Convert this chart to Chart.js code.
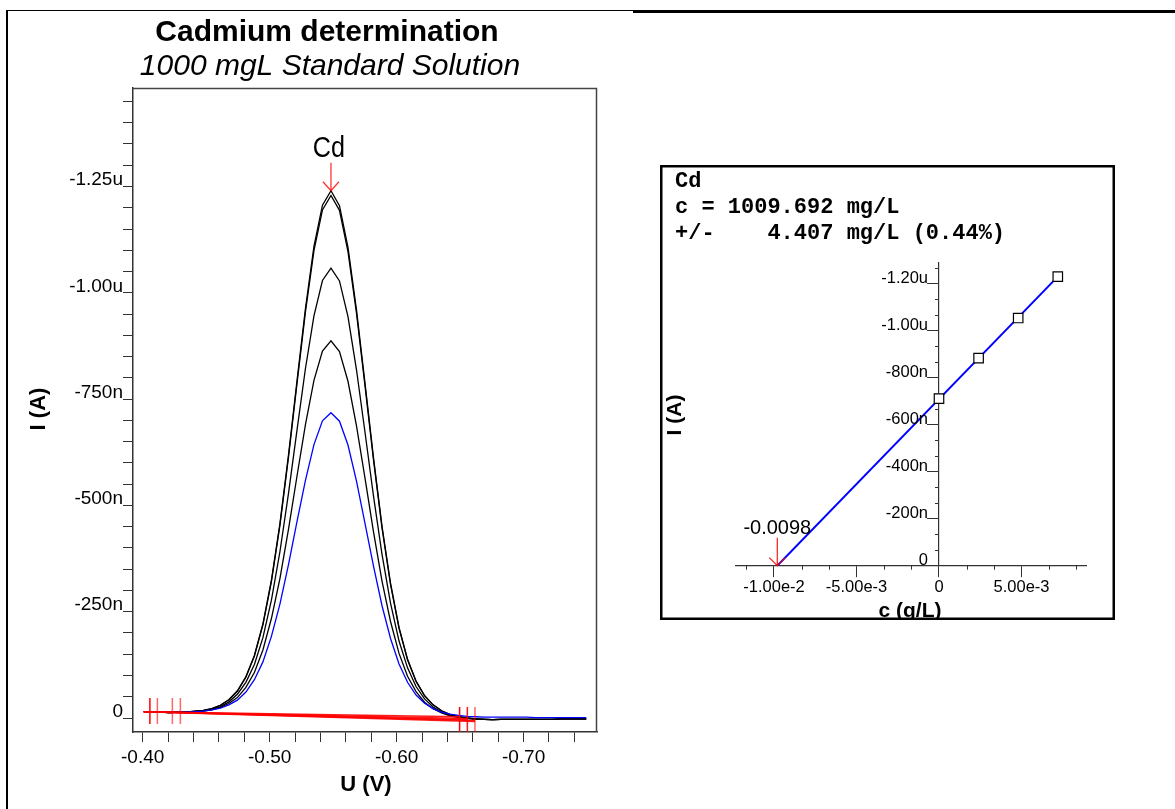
<!DOCTYPE html>
<html><head><meta charset="utf-8">
<script src="https://cdn.jsdelivr.net/npm/chart.js@4.4.1/dist/chart.umd.min.js"></script>
<style>
html,body{margin:0;padding:0;background:#fff;width:1175px;height:809px;overflow:hidden;}
#left{position:absolute;left:0;top:0;width:656px;height:809px;}
#right{position:absolute;left:660px;top:165px;width:455px;height:455px;}
.fl{position:absolute;background:#000;}
</style></head><body>
<div class="fl" style="left:6px;top:10px;width:2px;height:799px"></div>
<div class="fl" style="left:6px;top:10px;width:628px;height:1px"></div>
<div class="fl" style="left:633px;top:10px;width:542px;height:3px"></div>
<div id="left"><canvas id="c1" width="656" height="809"></canvas></div>
<div id="right"><canvas id="c2" width="455" height="455"></canvas></div>
<script>
Chart.defaults.font.family = "'Liberation Sans', Arial, sans-serif";
Chart.defaults.color = '#000';

// ---------- Left chart: voltammograms (U in V, I in µA) ----------
const chartTitle = 'Cadmium determination';
const chartSubtitle = '1000 mgL Standard Solution';
const xAxisTitle = 'U (V)';
const yAxisTitle = 'I (A)';

const potentialV = [-0.4009,-0.4076,-0.4143,-0.4210,-0.4277,-0.4344,-0.4411,-0.4478,-0.4545,-0.4612,-0.4679,-0.4746,-0.4813,-0.4880,-0.4947,-0.5014,-0.5081,-0.5148,-0.5215,-0.5282,-0.5349,-0.5416,-0.5483,-0.5550,-0.5617,-0.5684,-0.5751,-0.5818,-0.5885,-0.5952,-0.6019,-0.6086,-0.6153,-0.6220,-0.6287,-0.6354,-0.6421,-0.6488,-0.6555,-0.6622,-0.6689,-0.6756,-0.6823,-0.6890,-0.6957,-0.7024,-0.7091,-0.7158,-0.7225,-0.7292,-0.7359,-0.7426,-0.7493];

const sampleI = [-0.015,-0.015,-0.014,-0.014,-0.014,-0.014,-0.015,-0.016,-0.019,-0.023,-0.031,-0.042,-0.061,-0.090,-0.132,-0.192,-0.268,-0.360,-0.461,-0.559,-0.643,-0.699,-0.718,-0.698,-0.642,-0.557,-0.458,-0.357,-0.264,-0.187,-0.127,-0.084,-0.054,-0.035,-0.022,-0.014,-0.009,-0.006,-0.004,-0.003,-0.002,-0.002,-0.002,-0.002,-0.002,-0.002,-0.001,-0.001,-0.001,-0.001,-0.001,-0.001,-0.001];
const add1I = [-0.015,-0.014,-0.014,-0.013,-0.014,-0.014,-0.015,-0.016,-0.019,-0.025,-0.034,-0.048,-0.072,-0.107,-0.160,-0.234,-0.328,-0.443,-0.568,-0.690,-0.794,-0.863,-0.887,-0.862,-0.792,-0.687,-0.564,-0.438,-0.322,-0.227,-0.152,-0.098,-0.062,-0.037,-0.022,-0.012,-0.005,-0.001,0.001,0.003,0.003,0.004,0.003,0.003,0.003,0.003,0.003,0.003,0.003,0.002,0.002,0.002,0.002];
const add2I = [-0.015,-0.014,-0.014,-0.013,-0.014,-0.014,-0.015,-0.017,-0.021,-0.027,-0.038,-0.056,-0.084,-0.126,-0.189,-0.277,-0.391,-0.527,-0.676,-0.822,-0.946,-1.029,-1.058,-1.028,-0.944,-0.819,-0.672,-0.522,-0.385,-0.270,-0.181,-0.118,-0.074,-0.045,-0.026,-0.014,-0.006,-0.002,0.001,0.002,0.003,0.004,0.003,0.003,0.003,0.003,0.003,0.003,0.003,0.002,0.002,0.002,0.002];
const add3I = [-0.015,-0.014,-0.014,-0.013,-0.014,-0.014,-0.016,-0.018,-0.022,-0.030,-0.043,-0.063,-0.096,-0.146,-0.219,-0.321,-0.453,-0.612,-0.785,-0.955,-1.099,-1.195,-1.229,-1.194,-1.097,-0.952,-0.781,-0.607,-0.447,-0.314,-0.211,-0.137,-0.086,-0.052,-0.031,-0.017,-0.008,-0.003,0.000,0.002,0.003,0.004,0.003,0.003,0.003,0.003,0.003,0.003,0.003,0.002,0.002,0.002,0.002];
const add3bI = [-0.015,-0.014,-0.014,-0.013,-0.014,-0.014,-0.016,-0.018,-0.022,-0.030,-0.043,-0.064,-0.097,-0.147,-0.221,-0.324,-0.457,-0.617,-0.792,-0.963,-1.109,-1.206,-1.240,-1.205,-1.107,-0.960,-0.788,-0.612,-0.451,-0.317,-0.213,-0.138,-0.087,-0.053,-0.031,-0.017,-0.008,-0.003,0.000,0.002,0.003,0.004,0.003,0.003,0.003,0.003,0.003,0.003,0.003,0.002,0.002,0.002,0.002];

// integration baselines (red)
const baseStartV = -0.4009;
const baseStartI = [-0.015,-0.015,-0.015,-0.015,-0.015];
const baseEndV = [-0.6496,-0.6557,-0.6557,-0.6617,-0.6617];
const baseEndI = [-0.003,0.001,0.004,0.006,0.008];

// integration limit markers
const leftLimitV = [-0.4057,-0.4116,-0.4234,-0.4297];
const leftLimitAlpha = [1,0.6,0.6,0.6];
const rightLimitV = [-0.6496,-0.6557,-0.6617];
const rightLimitAlpha = [1,0.9,0.6];
const leftLimitSpanI = [-0.047,0.014];
const rightLimitSpanI = [-0.026,0.033];

const peakLabel = 'Cd';
const peakV = -0.5483;
const peakI = -1.240;

const voltTicks = [-0.40,-0.42,-0.44,-0.46,-0.48,-0.50,-0.52,-0.54,-0.56,-0.58,-0.60,-0.62,-0.64,-0.66,-0.68,-0.70,-0.72,-0.74];
const voltMajor = [-0.40,-0.50,-0.60,-0.70];
const voltLabels = ['-0.40','-0.50','-0.60','-0.70'];
const currTicks = [0,-0.05,-0.1,-0.15,-0.2,-0.25,-0.3,-0.35,-0.4,-0.45,-0.5,-0.55,-0.6,-0.65,-0.7,-0.75,-0.8,-0.85,-0.9,-0.95,-1.0,-1.05,-1.1,-1.15,-1.2,-1.25,-1.3,-1.35,-1.4,-1.45];
const currMajor = [0,-0.25,-0.5,-0.75,-1.0,-1.25];
const currLabels = ['0','-250n','-500n','-750n','-1.00u','-1.25u'];

// ---------- Right chart: standard addition calibration ----------
const calC = [0,0.0024,0.0048,0.0072];
const calI = [-0.711,-0.883,-1.054,-1.230];
const fitC = [-0.0098,0.0072];
const fitI = [0,-1.230];
const interceptLabel = '-0.0098';
const calXTitle = 'c (g/L)';
const calYTitle = 'I (A)';
const calXMajor = [-0.01,-0.005,0,0.005];
const calXLabels = ['-1.00e-2','-5.00e-3','0','5.00e-3'];
const calXMinor = [-0.011667,-0.008333,-0.006667,-0.003333,-0.001667,0.001667,0.003333,0.006667,0.008333];
const calYMajor = [0,-0.2,-0.4,-0.6,-0.8,-1.0,-1.2];
const calYLabels = ['0','-200n','-400n','-600n','-800n','-1.00u','-1.20u'];
const calYMinor = [-0.0667,-0.1333,-0.2667,-0.3333,-0.4667,-0.5333,-0.6667,-0.7333,-0.8667,-0.9333,-1.0667,-1.1333,-1.2667];
const resultLines = ['Cd','c = 1009.692 mg/L','+/-    4.407 mg/L (0.44%)'];

function lookup(majors, labels, v){
  const i = majors.findIndex(m => Math.abs(m - v) < 1e-7);
  return i >= 0 ? labels[i] : '';
}
function pts(xs, ys){ return xs.map((x,i)=>({x:x,y:ys[i]})); }

// ----- left chart datasets -----
const leftDatasets = [];
baseEndV.forEach((ev,i)=>{
  leftDatasets.push({data:[{x:baseStartV,y:baseStartI[i]},{x:ev,y:baseEndI[i]}],
    borderColor:'rgba(255,0,0,0.9)',borderWidth:1.5,pointRadius:0,order:0});
});
leftLimitV.forEach((v,i)=>{
  leftDatasets.push({data:[{x:v,y:leftLimitSpanI[0]},{x:v,y:leftLimitSpanI[1]}],
    borderColor:`rgba(255,0,0,${leftLimitAlpha[i]})`,borderWidth:1.5,pointRadius:0,order:0});
});
rightLimitV.forEach((v,i)=>{
  leftDatasets.push({data:[{x:v,y:rightLimitSpanI[0]},{x:v,y:rightLimitSpanI[1]}],
    borderColor:`rgba(255,0,0,${rightLimitAlpha[i]})`,borderWidth:1.5,pointRadius:0,order:0});
});
leftDatasets.push({data:pts(potentialV,sampleI),borderColor:'#0000ff',borderWidth:1.3,pointRadius:0,order:1});
[add1I,add2I,add3I,add3bI].forEach(arr=>{
  leftDatasets.push({data:pts(potentialV,arr),borderColor:'#000',borderWidth:1.3,pointRadius:0,order:2});
});

const leftDecor = {
  id:'leftDecor',
  afterDraw(chart){
    const {ctx, chartArea:a, scales:{x,y}} = chart;
    ctx.save();
    ctx.strokeStyle='#444'; ctx.lineWidth=1.5;
    ctx.beginPath(); ctx.moveTo(a.left, a.top+0.5); ctx.lineTo(a.right-0.5, a.top+0.5); ctx.lineTo(a.right-0.5, a.bottom); ctx.stroke();
    const px = x.getPixelForValue(peakV), py = y.getPixelForValue(peakI);
    ctx.strokeStyle='rgba(255,0,0,0.8)'; ctx.lineWidth=1.3;
    ctx.beginPath(); ctx.moveTo(px,py-28); ctx.lineTo(px,py);
    ctx.moveTo(px-8,py-9); ctx.lineTo(px,py); ctx.lineTo(px+8,py-9); ctx.stroke();
    ctx.fillStyle='#000'; ctx.textAlign='center'; ctx.textBaseline='alphabetic';
    ctx.save(); ctx.translate(px-2, py-34); ctx.scale(0.84,1);
    ctx.font='30px "Liberation Sans"'; ctx.fillText(peakLabel,0,0); ctx.restore();
    ctx.font='bold 30px "Liberation Sans"'; ctx.fillText(chartTitle, 327, 41);
    ctx.font='italic 30px "Liberation Sans"'; ctx.fillText(chartSubtitle, 330, 75);
    ctx.font='bold 22px "Liberation Sans"'; ctx.fillText(xAxisTitle, 366, 791);
    ctx.save(); ctx.translate(45, 409); ctx.rotate(-Math.PI/2); ctx.fillText(yAxisTitle,0,0); ctx.restore();
    ctx.restore();
  }
};

new Chart(document.getElementById('c1'), {
  type:'line',
  data:{datasets:leftDatasets},
  options:{
    responsive:false, animation:false, events:[],
    layout:{padding:{left:0,right:59,top:88,bottom:0}},
    plugins:{legend:{display:false},tooltip:{enabled:false},title:{display:false}},
    elements:{line:{tension:0}},
    scales:{
      x:{type:'linear',reverse:true,min:-0.7578,max:-0.3924,
        afterBuildTicks:(s)=>{s.ticks=voltTicks.map(v=>({value:v}));},
        afterFit:(s)=>{s.height=77;},
        grid:{drawOnChartArea:false,drawTicks:true,tickLength:10,tickColor:'#333',tickWidth:1},
        border:{display:true,color:'#333',width:1.5},
        ticks:{autoSkip:false,maxRotation:0,minRotation:0,padding:4,font:{size:19},color:'#000',
          callback:(v)=>lookup(voltMajor,voltLabels,v)}},
      y:{type:'linear',reverse:true,min:-1.4817,max:0.0329,
        afterBuildTicks:(s)=>{s.ticks=currTicks.map(v=>({value:v}));},
        afterFit:(s)=>{s.width=133;},
        grid:{drawOnChartArea:false,drawTicks:true,tickLength:10,tickColor:'#333',tickWidth:1},
        border:{display:true,color:'#333',width:1.5},
        ticks:{autoSkip:false,padding:0,labelOffset:-6.5,font:{size:19},color:'#000',
          callback:(v)=>lookup(currMajor,currLabels,v)}}
    }
  },
  plugins:[leftDecor]
});

// ----- right chart -----
const rightDecor = {
  id:'rightDecor',
  afterDraw(chart){
    const {ctx, scales:{x,y}} = chart;
    ctx.save();
    const x0 = x.getPixelForValue(0), y0 = y.getPixelForValue(0);
    ctx.strokeStyle='#333'; ctx.lineWidth=1;
    ctx.beginPath();
    calXMinor.forEach(v=>{const p=Math.round(x.getPixelForValue(v))+0.5; ctx.moveTo(p,y0); ctx.lineTo(p,y0+4);});
    calYMinor.forEach(v=>{const p=Math.round(y.getPixelForValue(v))+0.5; ctx.moveTo(x0-4,p); ctx.lineTo(x0,p);});
    ctx.stroke();
    ctx.fillStyle='#000';
    ctx.font='16.5px "Liberation Sans"'; ctx.textAlign='right'; ctx.textBaseline='alphabetic';
    calYMajor.forEach((v,i)=>ctx.fillText(calYLabels[i], x0-11, y.getPixelForValue(v)-0.5));
    const ax = x.getPixelForValue(fitC[0]);
    ctx.strokeStyle='rgba(255,0,0,0.9)'; ctx.lineWidth=1.2;
    ctx.beginPath(); ctx.moveTo(ax,y0-28); ctx.lineTo(ax,y0);
    ctx.moveTo(ax-8,y0-8); ctx.lineTo(ax,y0); ctx.lineTo(ax+8,y0-8); ctx.stroke();
    ctx.textAlign='center'; ctx.font='20px "Liberation Sans"';
    ctx.fillText(interceptLabel, ax, y0-32);
    ctx.textAlign='left'; ctx.font='bold 22px "Liberation Mono"';
    resultLines.forEach((t,i)=>ctx.fillText(t, 15, 22+26*i));
    ctx.textAlign='center'; ctx.font='bold 21px "Liberation Sans"';
    ctx.fillText(calXTitle, 250, 452);
    ctx.save(); ctx.translate(21, 250); ctx.rotate(-Math.PI/2); ctx.fillText(calYTitle,0,0); ctx.restore();
    ctx.strokeStyle='#000'; ctx.lineWidth=2.5; ctx.strokeRect(1.25,1.25,452.5,452.5);
    ctx.restore();
  }
};

new Chart(document.getElementById('c2'), {
  type:'line',
  data:{datasets:[
    {data:pts(calC,calI),showLine:false,pointStyle:'rect',pointRadius:6.7,pointBackgroundColor:'#fff',pointBorderColor:'#000',pointBorderWidth:1.2,order:0},
    {data:pts(fitC,fitI),borderColor:'#0000ff',borderWidth:2,pointRadius:0,order:1}
  ]},
  options:{
    responsive:false, animation:false, events:[],
    layout:{padding:{left:76,right:28.3,top:97.7,bottom:54.3}},
    plugins:{legend:{display:false},tooltip:{enabled:false},title:{display:false}},
    elements:{line:{tension:0}},
    scales:{
      x:{type:'linear',position:{y:0},min:-0.012303,max:0.008952,
        afterBuildTicks:(s)=>{s.ticks=calXMajor.map(v=>({value:v}));},
        grid:{drawOnChartArea:false,drawTicks:true,tickLength:11,tickColor:'#333',tickWidth:1},
        border:{display:true,color:'#333',width:1.2},
        ticks:{autoSkip:false,maxRotation:0,minRotation:0,padding:1,font:{size:16.5},color:'#000',
          callback:(v)=>lookup(calXMajor,calXLabels,v)}},
      y:{type:'linear',position:{x:0},reverse:true,min:-1.2894,max:0,
        afterBuildTicks:(s)=>{s.ticks=calYMajor.map(v=>({value:v}));},
        grid:{drawOnChartArea:false,drawTicks:true,tickLength:11,tickColor:'#333',tickWidth:1},
        border:{display:true,color:'#333',width:1.2},
        ticks:{display:false}}
    }
  },
  plugins:[rightDecor]
});
</script>
</body></html>
